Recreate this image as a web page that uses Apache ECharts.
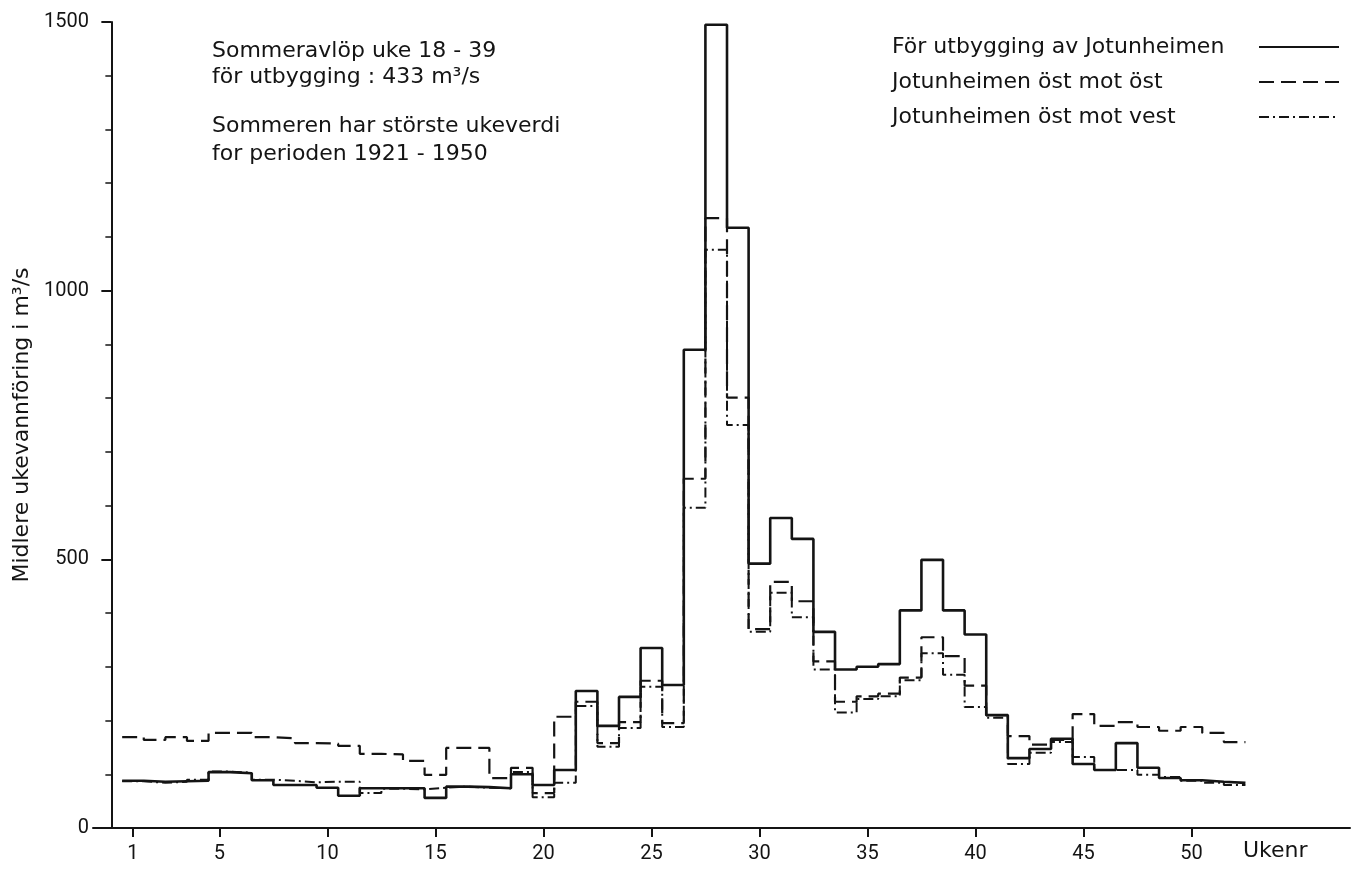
<!DOCTYPE html>
<html>
<head>
<meta charset="utf-8">
<script src="https://cdn.jsdelivr.net/npm/echarts@6/dist/echarts.min.js"></script>
<style>
html,body{margin:0;padding:0;background:#fff;}
#chart{width:1353px;height:876px;}
</style>
</head>
<body>
<div id="chart"></div>
<script>
// Week numbers 1..52
const weeks = [1,2,3,4,5,6,7,8,9,10,11,12,13,14,15,16,17,18,19,20,21,22,23,24,25,26,27,28,29,30,31,32,33,34,35,36,37,38,39,40,41,42,43,44,45,46,47,48,49,50,51,52];
const xTickLabels = [1,5,10,15,20,25,30,35,40,45,50];
const yTickLabels = [0,500,1000,1500];

// Series names (legend)
const seriesNames = ['För utbygging av Jotunheimen', 'Jotunheimen öst mot öst', 'Jotunheimen öst mot vest'];

// Middle weekly discharge, m3/s
const forUtbygging = [88,86,87,88,104,102,89,80,80,75,60,74,74,74,56,77,76,74,100,80,108,255,190,244,335,266,890,1495,1117,492,577,538,365,295,300,305,405,499,405,360,210,130,147,166,119,108,158,112,93,89,86,84];
const ostMotOst    = [169,164,169,162,177,177,169,167,158,157,153,138,137,125,99,149,149,93,112,65,207,235,158,197,274,195,650,1135,801,370,458,422,310,235,245,250,280,355,320,265,210,171,155,164,212,190,197,188,181,188,177,160];
const ostMotVest   = [87,84,86,90,105,103,90,88,85,86,86,65,73,72,75,77,75,74,104,57,84,227,151,186,263,188,596,1076,750,365,438,392,295,215,240,245,275,325,285,225,205,119,140,160,132,108,108,99,95,88,84,80];

const annotationLines = [
  'Sommeravlöp uke 18 - 39',
  'för utbygging : 433 m³/s',
  'Sommeren har störste ukeverdi',
  'for perioden 1921 - 1950'
];
const yAxisTitle = 'Midlere ukevannföring i m³/s';
const xAxisTitle = 'Ukenr';

// Build step data: each week is a flat step from w-0.5 to w+0.5
function steps(vals) {
  const out = [];
  vals.forEach((v, i) => {
    out.push([weeks[i] - 0.5, v]);
    out.push([weeks[i] + 0.5, v]);
  });
  return out;
}

const ink = '#141414';
const txtFont = '22px "DejaVu Sans"';
const chart = echarts.init(document.getElementById('chart'), null, {renderer: 'canvas'});

const option = {
  backgroundColor: '#ffffff',
  animation: false,
  grid: {left: 93, right: 3, top: 22, bottom: 48},
  legend: {
    orient: 'vertical',
    right: 8,
    top: 31,
    align: 'right',
    itemWidth: 80,
    itemHeight: 26,
    itemGap: 13,
    data: seriesNames,
    itemStyle: {opacity: 0},
    formatter: function (name) { return '{t|' + name + '}'; },
    textStyle: {
      color: ink,
      fontFamily: 'DejaVu Sans',
      fontSize: 22,
      rich: {t: {width: 362, align: 'left', fontFamily: 'DejaVu Sans', fontSize: 22, color: ink}}
    }
  },
  xAxis: {
    type: 'value',
    min: -0.85,
    max: 57.34,
    splitLine: {show: false},
    axisLine: {show: true, onZero: false, lineStyle: {color: ink, width: 2}},
    axisTick: {show: true, customValues: xTickLabels, length: 9, lineStyle: {color: ink, width: 2}},
    axisLabel: {show: true, customValues: xTickLabels, margin: 16, color: ink, fontFamily: 'Roboto', fontSize: 20},
    minorTick: {show: false}
  },
  yAxis: {
    type: 'value',
    min: 0,
    max: 1500,
    interval: 500,
    offset: -10,
    splitLine: {show: false},
    axisLine: {show: true, lineStyle: {color: ink, width: 2}},
    axisTick: {show: true, length: 10, lineStyle: {color: ink, width: 2}},
    minorTick: {show: true, splitNumber: 5, length: 6, lineStyle: {color: ink, width: 1.5}},
    axisLabel: {color: ink, fontFamily: 'Roboto', fontSize: 20, margin: 14, formatter: function (v) { return String(v); }},
    name: yAxisTitle,
    nameLocation: 'middle',
    nameGap: 68,
    nameRotate: 90,
    nameTextStyle: {color: ink, fontFamily: 'DejaVu Sans', fontSize: 22}
  },
  series: [
    {
      name: seriesNames[0], type: 'line', data: steps(forUtbygging),
      showSymbol: false, symbol: 'none', z: 5,
      lineStyle: {color: ink, width: 2.6, type: 'solid'},
      itemStyle: {color: ink}
    },
    {
      name: seriesNames[1], type: 'line', data: steps(ostMotOst),
      showSymbol: false, symbol: 'none', z: 4,
      lineStyle: {color: ink, width: 2.2, type: [15, 7]},
      itemStyle: {color: ink}
    },
    {
      name: seriesNames[2], type: 'line', data: steps(ostMotVest),
      showSymbol: false, symbol: 'none', z: 3,
      lineStyle: {color: ink, width: 2, type: [10, 4, 2, 4]},
      itemStyle: {color: ink}
    }
  ],
  graphic: [
    {type: 'text', left: 212, top: 40, style: {text: annotationLines[0], font: txtFont, fill: ink}},
    {type: 'text', left: 212, top: 66, style: {text: annotationLines[1], font: txtFont, fill: ink}},
    {type: 'text', left: 212, top: 115, style: {text: annotationLines[2], font: txtFont, fill: ink}},
    {type: 'text', left: 212, top: 143, style: {text: annotationLines[3], font: txtFont, fill: ink}},
    {type: 'text', left: 1243, top: 840, style: {text: xAxisTitle, font: txtFont, fill: ink}}
  ]
};
chart.setOption(option);
</script>
</body>
</html>
